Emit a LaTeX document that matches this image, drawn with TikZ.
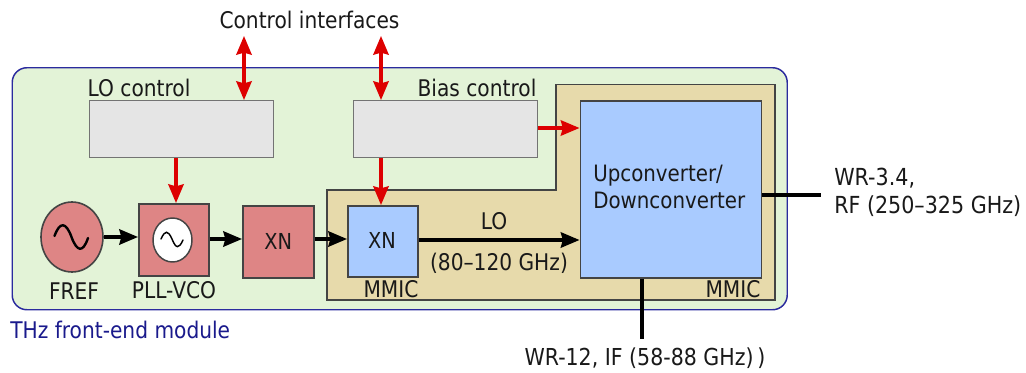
\documentclass[tikz,border=0pt]{standalone}
\usepackage{fontspec}
\setmainfont{DejaVu Sans}[FakeStretch=0.88]
\usetikzlibrary{arrows.meta,shapes.geometric}
\definecolor{modfill}{HTML}{E3F3D7}
\definecolor{modline}{HTML}{2B2B9E}
\definecolor{mmicfill}{HTML}{E7DAAB}
\definecolor{blockblue}{HTML}{A9CBFF}
\definecolor{blockred}{HTML}{DE8585}
\definecolor{blockgray}{HTML}{E5E5E5}
\definecolor{edgegray}{HTML}{444444}
\definecolor{ctrlred}{HTML}{DD0000}
\definecolor{titleblue}{HTML}{1A1A8C}
\tikzset{
  x=0.75pt,y=-0.75pt,
  lbl/.style={font=\fontsize{17.2}{19}\selectfont,inner sep=0pt,text=black!90},
  blk/.style={draw=edgegray,line width=1.2pt,anchor=north west,inner sep=0pt},
  redblk/.style={blk,fill=blockred},
  grayblk/.style={draw=gray!90!black,line width=1.1pt,fill=blockgray,anchor=north west,inner sep=0pt},
  sig/.style={line width=2.4pt,black,-{Stealth[length=14pt,width=11.5pt,inset=1.5pt]}},
  ctl/.style={line width=2.3pt,ctrlred,-{Stealth[length=14pt,width=11.5pt,inset=1.5pt]}},
  ctlb/.style={line width=2.3pt,ctrlred,{Stealth[length=14pt,width=11.5pt,inset=1.5pt]}-{Stealth[length=14pt,width=11.5pt,inset=1.5pt]}},
  wire/.style={line width=2.3pt,black},
}
\begin{document}
\begin{tikzpicture}
\useasboundingbox (0,0) rectangle (1026,372);
% module
\node[draw=modline,fill=modfill,line width=1.1pt,rounded corners=11pt,anchor=north west,minimum width=775*0.75pt,minimum height=242*0.75pt,inner sep=0pt] (module) at (11.5,67) {};
% MMIC region
\draw[draw=edgegray,fill=mmicfill,line width=1.2pt] (327,190) -- (556,190) -- (556,84.5) -- (775,84.5) -- (775,300) -- (327,300) -- cycle;
% blocks
\node[grayblk,minimum width=184*0.75pt,minimum height=57*0.75pt] (lo) at (89,100) {};
\node[grayblk,minimum width=184*0.75pt,minimum height=57*0.75pt] (bias) at (353,100) {};
\node[blk,fill=blockblue,minimum width=181*0.75pt,minimum height=177*0.75pt] (conv) at (579.5,100) {};
\node[blk,fill=blockblue,minimum width=70*0.75pt,minimum height=71*0.75pt] (xn2) at (347,205) {};
\node[redblk,minimum width=71*0.75pt,minimum height=72*0.75pt] (xn1) at (242,205) {};
\node[redblk,minimum width=70*0.75pt,minimum height=72*0.75pt] (pll) at (138,203) {};
\node[draw=edgegray,fill=blockred,line width=1.2pt,ellipse,minimum width=62*0.75pt,minimum height=70*0.75pt,inner sep=0pt] (fref) at (72,237) {};
\node[draw=edgegray,fill=white,line width=1.1pt,ellipse,minimum width=39*0.75pt,minimum height=44*0.75pt,inner sep=0pt] (vco) at (172.5,240) {};
% sine glyphs
\draw[line width=1.8pt,black,line cap=round] (54.5,236) .. controls (60,221) and (66,222) .. (71.5,237) .. controls (77,252) and (83,253) .. (88,238);
\draw[line width=1.1pt,black,line cap=round] (161,239) .. controls (165,230) and (168,230) .. (172,239) .. controls (176,249) and (179,249) .. (183,240);
% text in blocks
\node[lbl,font=\fontsize{16.5}{18}\selectfont] (xn1t) at (xn1.center) {XN};
\node[lbl,font=\fontsize{16.5}{18}\selectfont] (xn2t) at (382,240) {XN};
\node[lbl,anchor=west,align=left,font=\fontsize{16.9}{20}\selectfont] (convt) at (593,187) {Upconverter/\\Downconverter};
% labels
\node[lbl] (t1) at (309.5,19.5) {Control interfaces};
\node[lbl] (t2) at (139,88) {LO control};
\node[lbl] (t3) at (477,87.5) {Bias control};
\node[lbl] (t4) at (74,291) {FREF};
\node[lbl] (t5) at (174,290) {PLL-VCO};
\node[lbl] (t6) at (391,289) {MMIC};
\node[lbl] (t7) at (733,289) {MMIC};
\node[lbl] (t8) at (494,221) {LO};
\node[lbl] (t9) at (499,263.5) {(80–120 GHz)};
\node[lbl,text=titleblue,anchor=west] (t10) at (10,330) {THz front-end module};
\node[lbl,anchor=west,align=left,font=\fontsize{17.6}{21}\selectfont] (t11) at (834,192.5) {WR-3.4,\\RF (250–325 GHz)};
\node[lbl,font=\fontsize{17.5}{19}\selectfont] (t12) at (645,358) {WR-12, IF (58-88 GHz)\,)};
% connectors
\coordinate (ifend) at (642,339);
\coordinate (rfend) at (821,195);
\coordinate (c1) at (244,36);
\coordinate (c2) at (381,36);
\coordinate (lotop) at (244,100);
\coordinate (biastop) at (381,100);
\draw[sig] (fref.east) -- (fref.east -| pll.west);
\draw[sig] (pll.east |- 0,239) -- (xn1.west |- 0,239);
\draw[sig] (xn1.east |- 0,239) -- (xn2.west |- 0,239);
\draw[sig] (xn2.east |- 0,240) -- (conv.west |- 0,240);
\draw[wire] (conv.east |- 0,195) -- (rfend);
\draw[wire] (ifend |- conv.south) -- (ifend);
\draw[ctl] (lo.south -| 176,0) -- (pll.north -| 176,0);
\draw[ctl] (bias.south -| 381,0) -- (xn2.north -| 381,0);
\draw[ctl] (bias.east |- 0,128) -- (conv.west |- 0,128);
\draw[ctlb] (c1) -- (lotop);
\draw[ctlb] (c2) -- (biastop);
\end{tikzpicture}
\end{document}
